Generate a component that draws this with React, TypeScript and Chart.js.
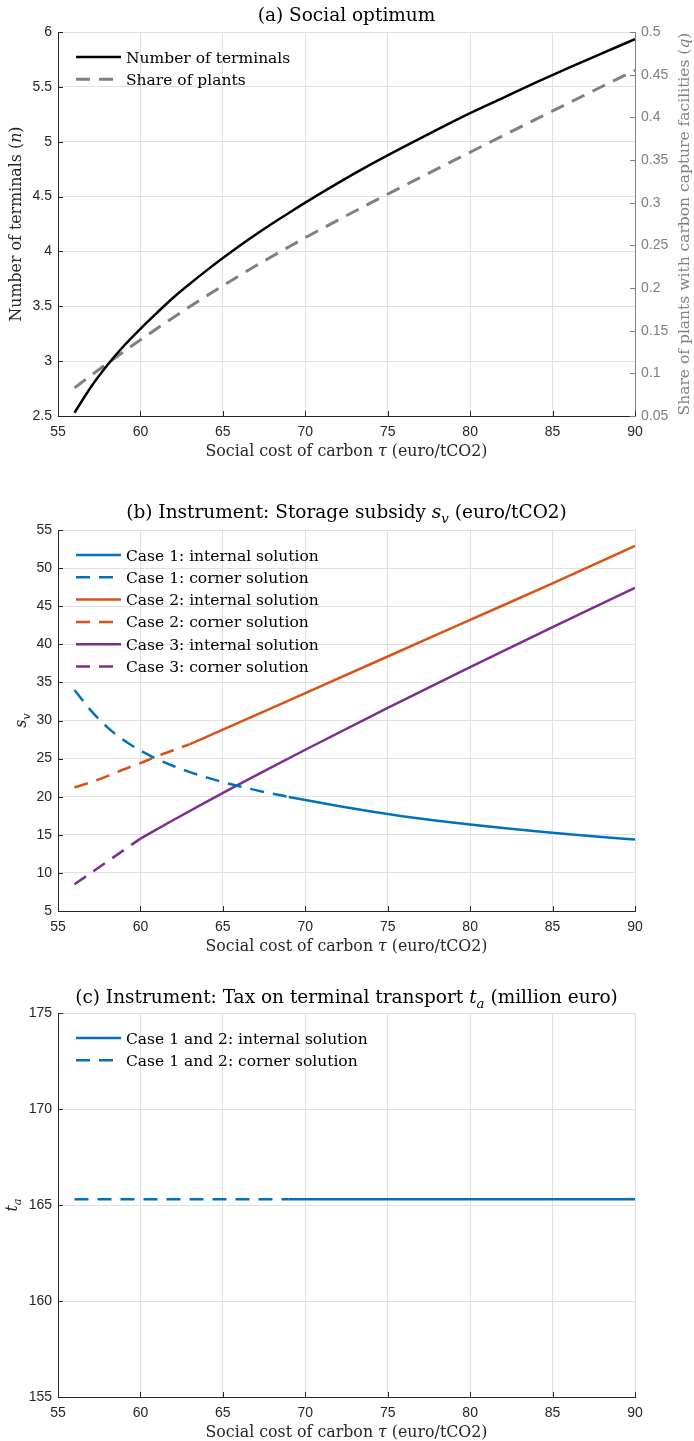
import React, { useEffect, useRef } from "react";
import { Chart, registerables } from "chart.js";

Chart.register(...registerables);

// ---------- DATA ----------
const X_TICKS = [55, 60, 65, 70, 75, 80, 85, 90];

// (a) Social optimum
const TAU_A = [56, 57, 58, 59, 60, 61, 62, 63, 64, 65, 66, 67, 68, 69, 70, 72, 74, 76, 78, 80, 82, 84, 86, 88, 90];
const TERMINALS = [2.53, 2.765, 2.965, 3.14, 3.295, 3.44, 3.58, 3.705, 3.825, 3.94, 4.05, 4.155, 4.255, 4.35, 4.445, 4.625, 4.795, 4.955, 5.11, 5.26, 5.4, 5.54, 5.675, 5.805, 5.935];
const SHARE = [0.083, 0.0975, 0.1117, 0.1256, 0.1392, 0.1525, 0.1655, 0.1782, 0.1906, 0.2027, 0.2145, 0.226, 0.2372, 0.2482, 0.259, 0.2797, 0.3, 0.3199, 0.3396, 0.3591, 0.3785, 0.3978, 0.417, 0.4361, 0.4551];
const N_TICKS = [2.5, 3, 3.5, 4, 4.5, 5, 5.5, 6];
const Q_TICKS = [0.05, 0.1, 0.15, 0.2, 0.25, 0.3, 0.35, 0.4, 0.45, 0.5];

// (b) Storage subsidy
const TAU_C1_CORNER = [56, 57, 58, 59, 60, 61, 62, 63, 64, 65, 66, 67, 68, 69];
const C1_CORNER = [34.0, 31.3, 29.1, 27.4, 26.05, 24.95, 24.03, 23.23, 22.53, 21.91, 21.36, 20.86, 20.4, 19.97];
const TAU_C1_INT = [69, 70, 72, 74, 76, 78, 80, 82, 84, 86, 88, 90];
const C1_INT = [19.97, 19.57, 18.77, 18.05, 17.41, 16.85, 16.35, 15.89, 15.47, 15.08, 14.72, 14.38];
const TAU_C2_CORNER = [56, 57, 58, 59, 60, 61, 62, 63];
const C2_CORNER = [21.2, 21.9, 22.7, 23.6, 24.4, 25.3, 26.1, 26.9];
const TAU_C2_INT = [63, 65, 70, 75, 80, 85, 90];
const C2_INT = [26.9, 28.8, 33.6, 38.4, 43.2, 48.0, 52.9];
const TAU_C3_CORNER = [56, 57, 58, 59, 60];
const C3_CORNER = [8.5, 10.0, 11.5, 13.0, 14.5];
const TAU_C3_INT = [60, 62, 64, 66, 68, 70, 75, 80, 85, 90];
const C3_INT = [14.5, 16.94, 19.32, 21.64, 23.92, 26.16, 31.66, 37.01, 42.26, 47.41];
const SV_TICKS = [5, 10, 15, 20, 25, 30, 35, 40, 45, 50, 55];

// (c) Tax on terminal transport
const TAU_T_CORNER = [56, 69];
const T_CORNER = [165.3, 165.3];
const TAU_T_INT = [69, 90];
const T_INT = [165.3, 165.3];
const TA_TICKS = [155, 160, 165, 170, 175];

// ---------- STYLE ----------
const W = 694;
const SERIF = '"DejaVu Serif", serif';
const SANS = '"Liberation Sans", Arial, sans-serif';
const TXT = 15.5;
const TITLE_TXT = 18.5;
const XT_TXT = 15.8;
const AXIS = "#262626";
const GRID = "#e0e0e0";
const GRAY = "#808080";
const BLUE = "#0072BD";
const ORANGE = "#D95319";
const PURPLE = "#7E2F8E";
const DASH = [14, 9];
const PLOT_LEFT = 58;
const PLOT_RIGHT = 635;

type Seg = { t: string; it?: boolean; sub?: boolean };

function segFont(s: Seg, size: number) {
  const sz = s.sub ? size * 0.72 : size;
  return `${s.it ? "italic " : ""}${sz}px ${SERIF}`;
}

function drawRich(ctx: CanvasRenderingContext2D, segs: Seg[], x: number, y: number, size: number, color: string, rotate = false, align: "center" | "left" = "center") {
  ctx.save();
  let total = 0;
  const widths = segs.map((s) => {
    ctx.font = segFont(s, size);
    const w = ctx.measureText(s.t).width;
    total += w;
    return w;
  });
  ctx.translate(x, y);
  if (rotate) ctx.rotate(-Math.PI / 2);
  ctx.fillStyle = color;
  ctx.textBaseline = "alphabetic";
  let cx = align === "center" ? -total / 2 : 0;
  segs.forEach((s, i) => {
    ctx.font = segFont(s, size);
    ctx.fillText(s.t, cx, s.sub ? size * 0.25 : 0);
    cx += widths[i];
  });
  ctx.restore();
}

const pts = (xs: number[], ys: number[]) => xs.map((x, i) => ({ x, y: ys[i] }));
const fmt = (v: number) => String(Math.round(v * 1000) / 1000);

type Decor = {
  title: Seg[];
  titleY: number;
  xTitle: Seg[];
  yTitle: Seg[];
  yTitleX: number;
  y2Title?: Seg[];
  y2TitleX?: number;
};

function decorPlugin(cfg: Decor) {
  return {
    id: "decor",
    afterDraw(chart: any) {
      const ctx: CanvasRenderingContext2D = chart.ctx;
      const a = chart.chartArea;
      const sc = chart.scales;
      ctx.save();
      ctx.lineWidth = 1;
      // inward ticks
      ctx.strokeStyle = AXIS;
      const xs = sc.x;
      xs.ticks.forEach((t: any) => {
        const px = Math.round(xs.getPixelForValue(t.value)) + 0.5;
        ctx.beginPath();
        ctx.moveTo(px, a.bottom);
        ctx.lineTo(px, a.bottom - 5);
        ctx.stroke();
      });
      const ys = sc.y;
      ys.ticks.forEach((t: any) => {
        const py = Math.round(ys.getPixelForValue(t.value)) + 0.5;
        ctx.beginPath();
        ctx.moveTo(a.left, py);
        ctx.lineTo(a.left + 5, py);
        ctx.stroke();
      });
      if (sc.y1) {
        ctx.strokeStyle = GRAY;
        sc.y1.ticks.forEach((t: any) => {
          const py = Math.round(sc.y1.getPixelForValue(t.value)) + 0.5;
          ctx.beginPath();
          ctx.moveTo(a.right, py);
          ctx.lineTo(a.right - 5, py);
          ctx.stroke();
        });
      }
      ctx.restore();

      // titles
      const cx = (a.left + a.right) / 2;
      drawRich(ctx, cfg.title, cx, cfg.titleY, TITLE_TXT, "#000");
      drawRich(ctx, cfg.xTitle, cx, a.bottom + 40, XT_TXT, AXIS);
      drawRich(ctx, cfg.yTitle, cfg.yTitleX, (a.top + a.bottom) / 2, XT_TXT, AXIS, true);
      if (cfg.y2Title && cfg.y2TitleX) {
        drawRich(ctx, cfg.y2Title, cfg.y2TitleX, (a.top + a.bottom) / 2, TXT, GRAY, true);
      }

      // legend
      const ds = chart.data.datasets;
      ds.forEach((d: any, i: number) => {
        const y = a.top + 25 + i * 22.3;
        ctx.save();
        ctx.strokeStyle = d.borderColor;
        ctx.lineWidth = d.borderWidth;
        ctx.setLineDash(d.borderDash || []);
        ctx.beginPath();
        ctx.moveTo(a.left + 18, y);
        ctx.lineTo(a.left + 63, y);
        ctx.stroke();
        ctx.restore();
        drawRich(ctx, [{ t: d.label }], a.left + 68, y + 5.5, TXT, "#000", false, "left");
      });
    },
  };
}

function xScale(axisH: number) {
  return {
    type: "linear",
    min: 55,
    max: 90,
    afterBuildTicks: (s: any) => {
      s.ticks = X_TICKS.map((v) => ({ value: v }));
    },
    afterFit: (s: any) => {
      s.height = axisH;
    },
    ticks: { autoSkip: false, maxRotation: 0, padding: 8, color: AXIS, font: { family: SANS, size: 14 }, callback: (v: any) => fmt(v) },
    grid: { color: GRID, drawTicks: false, lineWidth: 1 },
    border: { display: true, color: AXIS, width: 1 },
  };
}

function yScale(min: number, max: number, ticks: number[], position: "left" | "right", color: string, grid: boolean, width: number) {
  return {
    type: "linear",
    position,
    min,
    max,
    afterBuildTicks: (s: any) => {
      s.ticks = ticks.map((v) => ({ value: v }));
    },
    afterFit: (s: any) => {
      s.width = width;
    },
    ticks: { autoSkip: false, padding: 6, color, font: { family: SANS, size: 14 }, callback: (v: any) => fmt(v) },
    grid: { display: grid, color: GRID, drawTicks: false, lineWidth: 1 },
    border: { display: true, color, width: 1 },
  };
}

function baseOptions(padTop: number, padRight: number) {
  return {
    animation: false,
    responsive: false,
    events: [],
    layout: { padding: { top: padTop, right: padRight, left: 0, bottom: 0 } },
    plugins: { legend: { display: false }, tooltip: { enabled: false }, title: { display: false } },
    elements: { point: { radius: 0 }, line: { cubicInterpolationMode: "monotone", borderCapStyle: "butt" } },
  };
}

const X_TITLE: Seg[] = [{ t: "Social cost of carbon " }, { t: "τ", it: true }, { t: " (euro/tCO2)" }];

function configA(H: number): any {
  const top = 32;
  const bottom = 416;
  return {
    type: "line",
    data: {
      datasets: [
        { label: "Number of terminals", data: pts(TAU_A, TERMINALS), borderColor: "#000", borderWidth: 2.5, yAxisID: "y" },
        { label: "Share of plants", data: pts(TAU_A, SHARE), borderColor: GRAY, borderWidth: 3, borderDash: DASH, yAxisID: "y1" },
      ],
    },
    options: {
      ...baseOptions(top, 0),
      scales: {
        x: xScale(H - bottom),
        y: yScale(2.5, 6, N_TICKS, "left", AXIS, true, PLOT_LEFT),
        y1: yScale(0.05, 0.5, Q_TICKS, "right", GRAY, false, W - PLOT_RIGHT),
      },
    },
    plugins: [
      decorPlugin({
        title: [{ t: "(a) Social optimum" }],
        titleY: 21,
        xTitle: X_TITLE,
        yTitle: [{ t: "Number of terminals (" }, { t: "n", it: true }, { t: ")" }],
        yTitleX: 21,
        y2Title: [{ t: "Share of plants with carbon capture facilities (" }, { t: "q", it: true }, { t: ")" }],
        y2TitleX: 689,
      }),
    ],
  };
}

function configB(H: number): any {
  const top = 50;
  const bottom = 431;
  return {
    type: "line",
    data: {
      datasets: [
        { label: "Case 1: internal solution", data: pts(TAU_C1_INT, C1_INT), borderColor: BLUE, borderWidth: 2.5 },
        { label: "Case 1: corner solution", data: pts(TAU_C1_CORNER, C1_CORNER), borderColor: BLUE, borderWidth: 2.5, borderDash: DASH },
        { label: "Case 2: internal solution", data: pts(TAU_C2_INT, C2_INT), borderColor: ORANGE, borderWidth: 2.5 },
        { label: "Case 2: corner solution", data: pts(TAU_C2_CORNER, C2_CORNER), borderColor: ORANGE, borderWidth: 2.5, borderDash: DASH },
        { label: "Case 3: internal solution", data: pts(TAU_C3_INT, C3_INT), borderColor: PURPLE, borderWidth: 2.5 },
        { label: "Case 3: corner solution", data: pts(TAU_C3_CORNER, C3_CORNER), borderColor: PURPLE, borderWidth: 2.5, borderDash: DASH },
      ],
    },
    options: {
      ...baseOptions(top, W - PLOT_RIGHT),
      scales: {
        x: xScale(H - bottom),
        y: yScale(5, 55, SV_TICKS, "left", AXIS, true, PLOT_LEFT),
      },
    },
    plugins: [
      decorPlugin({
        title: [{ t: "(b) Instrument: Storage subsidy " }, { t: "s", it: true }, { t: "v", it: true, sub: true }, { t: " (euro/tCO2)" }],
        titleY: 38,
        xTitle: X_TITLE,
        yTitle: [{ t: "s", it: true }, { t: "v", it: true, sub: true }],
        yTitleX: 26,
      }),
    ],
  };
}

function configC(H: number): any {
  const top = 53;
  const bottom = 437;
  return {
    type: "line",
    data: {
      datasets: [
        { label: "Case 1 and 2: internal solution", data: pts(TAU_T_INT, T_INT), borderColor: BLUE, borderWidth: 2.5 },
        { label: "Case 1 and 2: corner solution", data: pts(TAU_T_CORNER, T_CORNER), borderColor: BLUE, borderWidth: 2.5, borderDash: DASH },
      ],
    },
    options: {
      ...baseOptions(top, W - PLOT_RIGHT),
      scales: {
        x: xScale(H - bottom),
        y: yScale(155, 175, TA_TICKS, "left", AXIS, true, PLOT_LEFT),
      },
    },
    plugins: [
      decorPlugin({
        title: [{ t: "(c) Instrument: Tax on terminal transport " }, { t: "t", it: true }, { t: "a", it: true, sub: true }, { t: " (million euro)" }],
        titleY: 43,
        xTitle: X_TITLE,
        yTitle: [{ t: "t", it: true }, { t: "a", it: true, sub: true }],
        yTitleX: 17,
      }),
    ],
  };
}

function Panel({ top, height, make }: { top: number; height: number; make: (h: number) => any }) {
  const ref = useRef<HTMLCanvasElement>(null);
  useEffect(() => {
    const chart = new Chart(ref.current as HTMLCanvasElement, make(height));
    return () => chart.destroy();
  }, []);
  return (
    <canvas
      ref={ref}
      width={W}
      height={height}
      style={{ position: "absolute", left: 0, top, width: W, height, display: "block" }}
    />
  );
}

export default function App() {
  return (
    <div style={{ position: "absolute", left: 0, top: 0, width: W, height: 1441, background: "#fff" }}>
      <Panel top={0} height={480} make={configA} />
      <Panel top={480} height={480} make={configB} />
      <Panel top={960} height={481} make={configC} />
    </div>
  );
}
